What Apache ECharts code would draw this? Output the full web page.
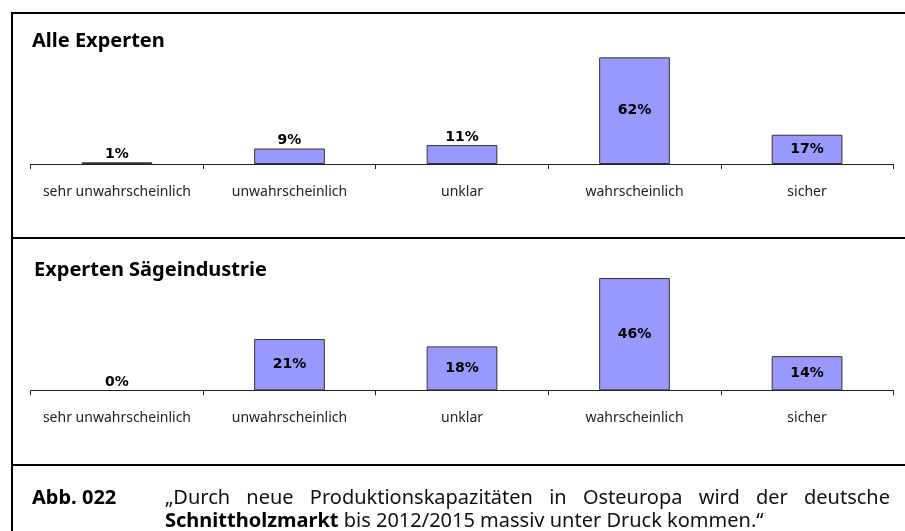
<!DOCTYPE html>
<html>
<head>
<meta charset="utf-8">
<script src="https://cdn.jsdelivr.net/npm/echarts@6/dist/echarts.min.js"></script>
<style>
html,body{margin:0;padding:0;background:#fff;}
#chart{width:905px;height:531px;}
</style>
</head>
<body>
<div id="chart"></div>
<script>
const categories = ['sehr unwahrscheinlich', 'unwahrscheinlich', 'unklar', 'wahrscheinlich', 'sicher'];
const alleExperten = [1, 9, 11, 62, 17];
const saegeindustrie = [0, 21, 18, 46, 14];
const panelTitles = ['Alle Experten', 'Experten Sägeindustrie'];
const figureLabel = 'Abb. 022';
const captionLine1 = '„Durch neue Produktionskapazitäten in Osteuropa wird der deutsche';
const captionBold = 'Schnittholzmarkt';
const captionRest = ' bis 2012/2015 massiv unter Druck kommen.“';

const chart = echarts.init(document.getElementById('chart'), null, {renderer: 'canvas'});

const BAR_COLOR = '#9999FF';
const LABEL_FONT = 'DejaVu Sans';
const TEXT_FONT = 'Noto Sans';

function barData(values) {
  return values.map(v => ({
    value: v,
    itemStyle: v === 0 ? {borderWidth: 0} : undefined,
    label: {position: v >= 12 ? 'inside' : 'top', distance: 1}
  }));
}

function xAxis(gridIndex) {
  return {
    type: 'category',
    gridIndex: gridIndex,
    data: categories,
    axisLine: {lineStyle: {color: '#222', width: 1}},
    axisTick: {show: true, length: 5, lineStyle: {color: '#222'}},
    axisLabel: {color: '#222', fontFamily: TEXT_FONT, fontSize: 14, margin: 21, interval: 0}
  };
}
function yAxis(gridIndex, max) {
  return {
    type: 'value', gridIndex: gridIndex, min: 0, max: max,
    show: false, splitLine: {show: false}
  };
}

// caption justification
const ctx = document.createElement('canvas').getContext('2d');
ctx.font = '20px "' + TEXT_FONT + '"';
const words = captionLine1.split(' ');
const widths = words.map(w => ctx.measureText(w).width);
const lineStart = 165, lineEnd = 890;
const gap = (lineEnd - lineStart - widths.reduce((a, b) => a + b, 0)) / (words.length - 1);
const captionWords = [];
let cx = lineStart;
words.forEach((w, i) => {
  captionWords.push({
    type: 'text', left: cx, top: 488,
    style: {text: w, font: '20px "' + TEXT_FONT + '"', fill: '#111'}
  });
  cx += widths[i] + gap;
});

const frame = [
  {type: 'line', shape: {x1: 12, y1: 13, x2: 905, y2: 13}, style: {stroke: '#000', lineWidth: 2}},
  {type: 'line', shape: {x1: 12, y1: 12, x2: 12, y2: 531}, style: {stroke: '#000', lineWidth: 2}},
  {type: 'line', shape: {x1: 12, y1: 238, x2: 905, y2: 238}, style: {stroke: '#000', lineWidth: 2}},
  {type: 'line', shape: {x1: 12, y1: 465, x2: 905, y2: 465}, style: {stroke: '#000', lineWidth: 2}}
];

const option = {
  animation: false,
  backgroundColor: '#fff',
  grid: [
    {left: 30.7, right: 11.7, top: 43.6, height: 120.4, containLabel: false},
    {left: 30.7, right: 11.7, top: 268.3, height: 122, containLabel: false}
  ],
  xAxis: [xAxis(0), xAxis(1)],
  yAxis: [yAxis(0, 70), yAxis(1, 50)],
  series: [alleExperten, saegeindustrie].map((vals, i) => ({
    type: 'bar',
    xAxisIndex: i, yAxisIndex: i,
    data: barData(vals),
    barCategoryGap: '59%',
    itemStyle: {color: BAR_COLOR, borderColor: '#333', borderWidth: 1},
    label: {
      show: true,
      formatter: '{c}%',
      color: '#000',
      fontFamily: LABEL_FONT,
      fontWeight: 'bold',
      fontSize: 14
    }
  })),
  graphic: frame.concat([
    {type: 'text', left: 32, top: 31, style: {text: panelTitles[0], font: 'bold 20px "' + TEXT_FONT + '"', fill: '#000'}},
    {type: 'text', left: 34, top: 260, style: {text: panelTitles[1], font: 'bold 20px "' + TEXT_FONT + '"', fill: '#000'}},
    {type: 'text', left: 32, top: 488, style: {text: figureLabel, font: 'bold 20px "' + TEXT_FONT + '"', fill: '#000'}},
    {type: 'text', left: lineStart, top: 511, style: {
      text: '{b|' + captionBold + '}' + captionRest,
      font: '20px "' + TEXT_FONT + '"', fill: '#111',
      rich: {b: {font: 'bold 20px "' + TEXT_FONT + '"', fill: '#000'}}
    }}
  ]).concat(captionWords)
};
chart.setOption(option);
</script>
</body>
</html>
